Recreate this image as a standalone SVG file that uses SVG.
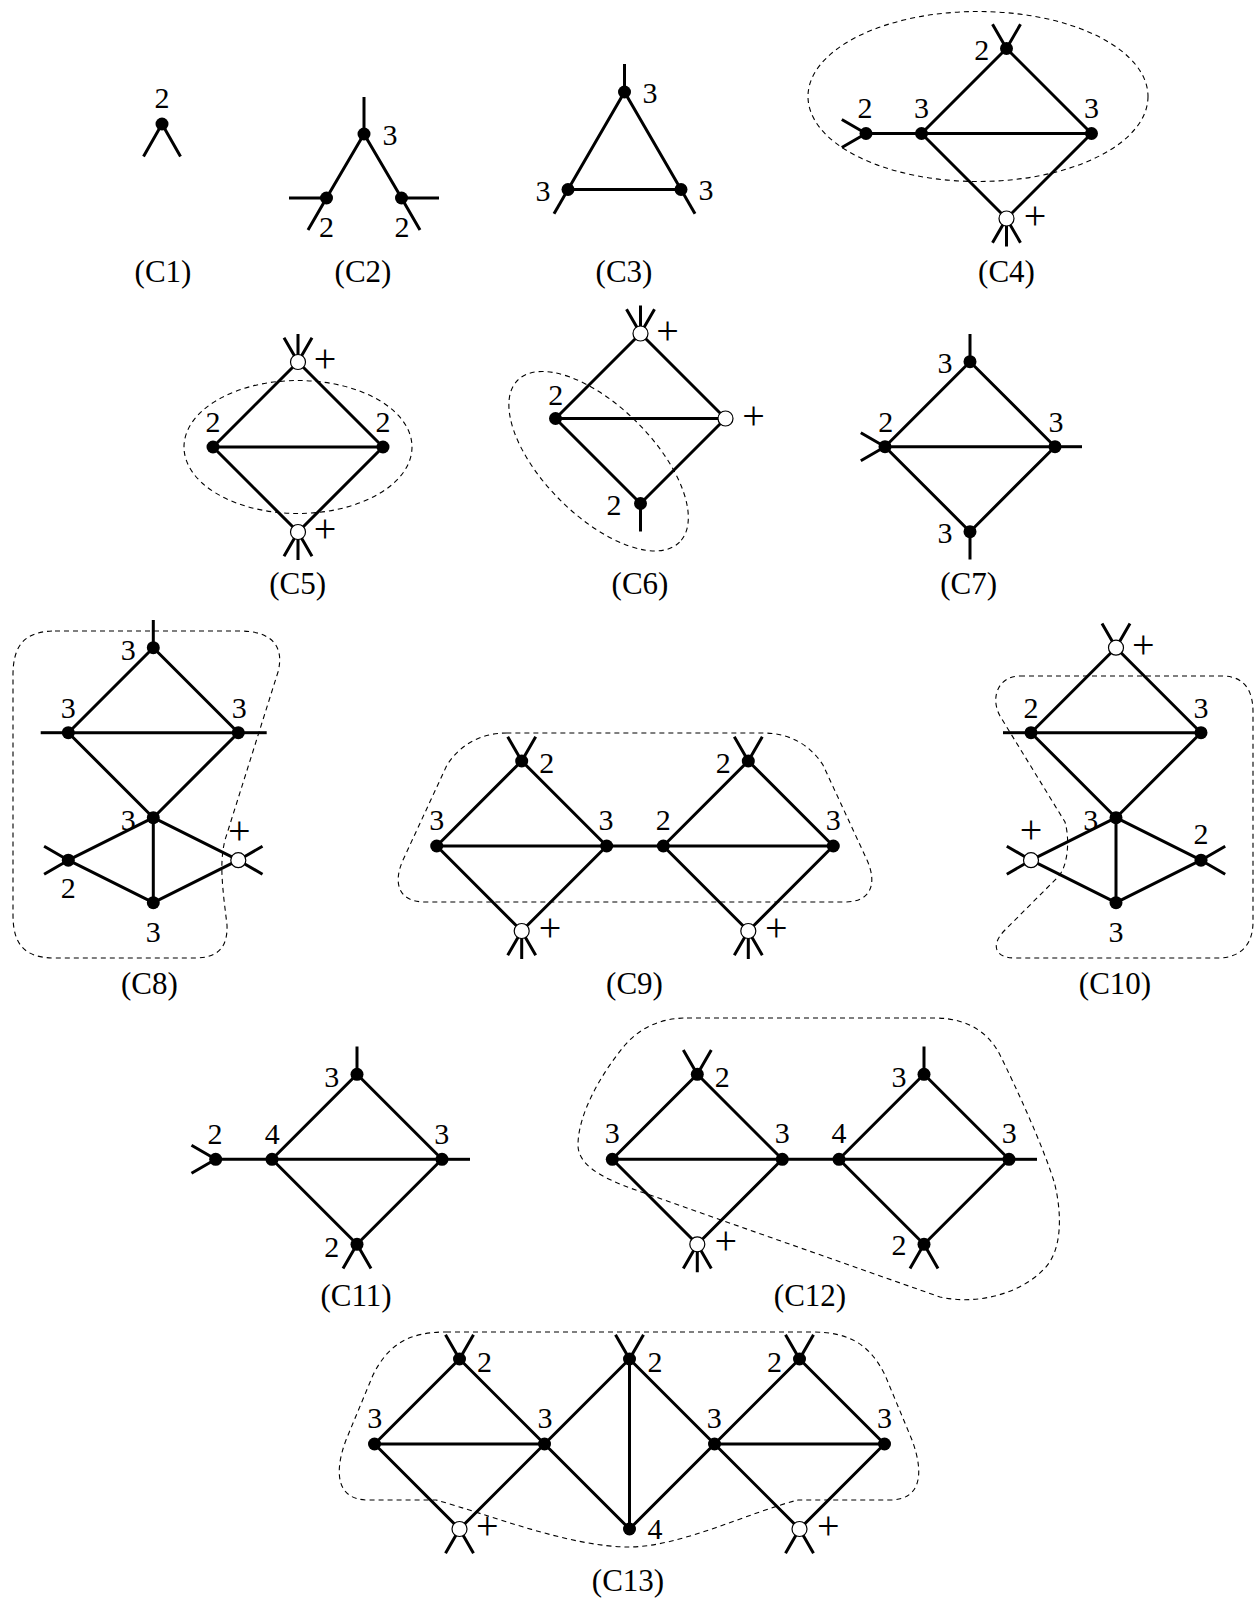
<svg xmlns="http://www.w3.org/2000/svg" width="1256" height="1604" viewBox="0 0 1256 1604">
<style>
.e{stroke:#000;stroke-width:3;fill:none;stroke-linejoin:round}
.n{fill:#000}
.w{fill:#fff;stroke:#000;stroke-width:1.2}
.d{fill:none;stroke:#000;stroke-width:1.1;stroke-dasharray:5 4}
.t{font-family:"Liberation Serif",serif;font-size:30px;text-anchor:middle;fill:#000}
.p{font-size:40px}
.c{font-size:31px}
</style>
<rect width="1256" height="1604" fill="#fff"/>

<g id="C1">
<g id="C1-n1"><path class="e" d="M162 124L143.5 156.5M162 124L180.5 156.5"/><circle class="n" cx="162" cy="124" r="6.5"/><text class="t" x="162" y="108">2</text></g>
<text class="t c" x="163" y="282">(C1)</text>
</g>

<g id="C2">
<g id="C2-edges"><path class="e" d="M364 134L326.5 198M364 134L401.5 198"/></g>
<g id="C2-n1"><path class="e" d="M364 134V97"/><circle class="n" cx="364" cy="134" r="6.5"/><text class="t" x="390" y="145">3</text></g>
<g id="C2-n2"><path class="e" d="M326.5 198H289M326.5 198L308 230"/><circle class="n" cx="326.5" cy="198" r="6.5"/><text class="t" x="326.5" y="236.5">2</text></g>
<g id="C2-n3"><path class="e" d="M401.5 198H439M401.5 198L420 230"/><circle class="n" cx="401.5" cy="198" r="6.5"/><text class="t" x="402" y="236.5">2</text></g>
<text class="t c" x="363" y="282">(C2)</text>
</g>

<g id="C3">
<g id="C3-edges"><path class="e" d="M624.5 92L568 189.5M568 189.5H681M681 189.5L624.5 92"/></g>
<g id="C3-n1"><path class="e" d="M624.5 92V64"/><circle class="n" cx="624.5" cy="92" r="6.5"/><text class="t" x="650" y="103">3</text></g>
<g id="C3-n2"><path class="e" d="M568 189.5L554 213.7"/><circle class="n" cx="568" cy="189.5" r="6.5"/><text class="t" x="543" y="201">3</text></g>
<g id="C3-n3"><path class="e" d="M681 189.5L695 213.7"/><circle class="n" cx="681" cy="189.5" r="6.5"/><text class="t" x="706" y="200">3</text></g>
<text class="t c" x="624" y="282">(C3)</text>
</g>

<g id="C4">
<ellipse class="d" cx="978" cy="96.5" rx="170" ry="85"/>
<g id="C4-edges"><path class="e" d="M866 133.5H1091.5M921.5 133.5L1006.5 48.5L1091.5 133.5M921.5 133.5L1006.5 218.5L1091.5 133.5"/></g>
<g id="C4-n1"><path class="e" d="M866 133.5L841.8 119.5M866 133.5L841.8 147.5"/><circle class="n" cx="866" cy="133.5" r="6.5"/><text class="t" x="865" y="118.3">2</text></g>
<g id="C4-n2"><circle class="n" cx="921.5" cy="133.5" r="6.5"/><text class="t" x="921.5" y="118.3">3</text></g>
<g id="C4-n3"><circle class="n" cx="1091.5" cy="133.5" r="6.5"/><text class="t" x="1091.5" y="118.3">3</text></g>
<g id="C4-n4"><path class="e" d="M1006.5 48.5L992.5 24.3M1006.5 48.5L1020.5 24.3"/><circle class="n" cx="1006.5" cy="48.5" r="6.5"/><text class="t" x="981.7" y="60">2</text></g>
<g id="C4-n5"><path class="e" d="M1006.5 218.5L992.5 242.7M1006.5 218.5V246.5M1006.5 218.5L1020.5 242.7"/><circle class="w" cx="1006.5" cy="218.5" r="7.5"/><text class="t p" x="1035" y="228.5">+</text></g>
<text class="t c" x="1006.5" y="282">(C4)</text>
</g>

<g id="C5">
<ellipse class="d" cx="298" cy="447" rx="114" ry="66.5"/>
<g id="C5-edges"><path class="e" d="M213 447H383M213 447L298 362L383 447M213 447L298 532L383 447"/></g>
<g id="C5-n1"><circle class="n" cx="213" cy="447" r="6.5"/><text class="t" x="213" y="431.5">2</text></g>
<g id="C5-n2"><circle class="n" cx="383" cy="447" r="6.5"/><text class="t" x="383" y="431.5">2</text></g>
<g id="C5-n3"><path class="e" d="M298 362L284 337.8M298 362V334M298 362L312 337.8"/><circle class="w" cx="298" cy="362" r="7.5"/><text class="t p" x="325" y="372">+</text></g>
<g id="C5-n4"><path class="e" d="M298 532L284 556.2M298 532V560M298 532L312 556.2"/><circle class="w" cx="298" cy="532" r="7.5"/><text class="t p" x="325" y="542">+</text></g>
<text class="t c" x="297.7" y="594">(C5)</text>
</g>

<g id="C6">
<ellipse class="d" cx="0" cy="0" rx="114.5" ry="54.7" transform="translate(598.6 461.2) rotate(45)"/>
<g id="C6-edges"><path class="e" d="M555.5 418.5H725.5M555.5 418.5L640.5 333.5L725.5 418.5M555.5 418.5L640.5 503.5L725.5 418.5"/></g>
<g id="C6-n1"><circle class="n" cx="555.5" cy="418.5" r="6.5"/><text class="t" x="555.8" y="405">2</text></g>
<g id="C6-n2"><path class="e" d="M640.5 333.5L626.5 309.3M640.5 333.5V305.5M640.5 333.5L654.5 309.3"/><circle class="w" cx="640.5" cy="333.5" r="7.5"/><text class="t p" x="667.5" y="343.5">+</text></g>
<g id="C6-n3"><circle class="w" cx="725.5" cy="418.5" r="7.5"/><text class="t p" x="753.6" y="428.5">+</text></g>
<g id="C6-n4"><path class="e" d="M640.5 503.5V531.5"/><circle class="n" cx="640.5" cy="503.5" r="6.5"/><text class="t" x="613.9" y="515">2</text></g>
<text class="t c" x="640" y="594">(C6)</text>
</g>

<g id="C7">
<g id="C7-edges"><path class="e" d="M885 446.7H1055M885 446.7L970 361.7L1055 446.7M885 446.7L970 531.7L1055 446.7"/></g>
<g id="C7-n1"><path class="e" d="M970 361.7V334"/><circle class="n" cx="970" cy="361.7" r="6.5"/><text class="t" x="945" y="373.3">3</text></g>
<g id="C7-n2"><path class="e" d="M885 446.7L860.8 432.7M885 446.7L860.8 460.7"/><circle class="n" cx="885" cy="446.7" r="6.5"/><text class="t" x="885.7" y="431.7">2</text></g>
<g id="C7-n3"><path class="e" d="M1055 446.7H1082"/><circle class="n" cx="1055" cy="446.7" r="6.5"/><text class="t" x="1056" y="431.7">3</text></g>
<g id="C7-n4"><path class="e" d="M970 531.7V559.5"/><circle class="n" cx="970" cy="531.7" r="6.5"/><text class="t" x="945" y="543.3">3</text></g>
<text class="t c" x="968.7" y="594">(C7)</text>
</g>

<g id="C8">
<path class="d" d="M55 631H240C270 631 285 645 278 672L225 840C220 860 222 880 224 900L227 925C228 950 215 958 195 958H55C25 958 13 945 13 915V675C13 645 25 631 55 631Z"/>
<g id="C8-edges"><path class="e" d="M68.3 732.7H238.3M68.3 732.7L153.3 647.7L238.3 732.7M68.3 732.7L153.3 817.7L238.3 732.7M153.3 817.7L68.3 860.2L153.3 902.7L238.3 860.2L153.3 817.7M153.3 817.7V902.7"/></g>
<g id="C8-n1"><path class="e" d="M153.3 647.7V620"/><circle class="n" cx="153.3" cy="647.7" r="6.5"/><text class="t" x="128.3" y="660">3</text></g>
<g id="C8-n2"><path class="e" d="M68.3 732.7H40.7"/><circle class="n" cx="68.3" cy="732.7" r="6.5"/><text class="t" x="68.3" y="718.3">3</text></g>
<g id="C8-n3"><path class="e" d="M238.3 732.7H266.7"/><circle class="n" cx="238.3" cy="732.7" r="6.5"/><text class="t" x="239.3" y="718.3">3</text></g>
<g id="C8-n4"><circle class="n" cx="153.3" cy="817.7" r="6.5"/><text class="t" x="128.3" y="830">3</text></g>
<g id="C8-n5"><path class="e" d="M68.3 860.2L44.1 846.2M68.3 860.2L44.1 874.2"/><circle class="n" cx="68.3" cy="860.2" r="6.5"/><text class="t" x="68.3" y="898.3">2</text></g>
<g id="C8-n6"><path class="e" d="M238.3 860.2L262.5 846.2M238.3 860.2L262.5 874.2"/><circle class="w" cx="238.3" cy="860.2" r="7.5"/><text class="t p" x="239.3" y="844.4">+</text></g>
<g id="C8-n7"><circle class="n" cx="153.3" cy="902.7" r="6.5"/><text class="t" x="153.3" y="941.7">3</text></g>
<text class="t c" x="149.3" y="994">(C8)</text>
</g>

<g id="C9">
<path class="d" d="M507 733C480 733 460 745 447 765L403 860C392 885 400 902 425 902H845C870 902 878 885 867 860L823 765C810 745 790 733 763 733Z"/>
<g id="C9-edges"><path class="e" d="M436.7 846H833.3M436.7 846L521.7 761L606.7 846M436.7 846L521.7 931L606.7 846M663.3 846L748.3 761L833.3 846M663.3 846L748.3 931L833.3 846"/></g>
<g id="C9-n1"><circle class="n" cx="436.7" cy="846" r="6.5"/><text class="t" x="436.7" y="830">3</text></g>
<g id="C9-n2"><path class="e" d="M521.7 761L507.7 736.8M521.7 761L535.7 736.8"/><circle class="n" cx="521.7" cy="761" r="6.5"/><text class="t" x="546.7" y="773.3">2</text></g>
<g id="C9-n3"><circle class="n" cx="606.7" cy="846" r="6.5"/><text class="t" x="606" y="830">3</text></g>
<g id="C9-n4"><path class="e" d="M521.7 931L507.7 955.2M521.7 931V959M521.7 931L535.7 955.2"/><circle class="w" cx="521.7" cy="931" r="7.5"/><text class="t p" x="550" y="941">+</text></g>
<g id="C9-n5"><circle class="n" cx="663.3" cy="846" r="6.5"/><text class="t" x="663.3" y="830">2</text></g>
<g id="C9-n6"><path class="e" d="M748.3 761L734.3 736.8M748.3 761L762.3 736.8"/><circle class="n" cx="748.3" cy="761" r="6.5"/><text class="t" x="723.3" y="773.3">2</text></g>
<g id="C9-n7"><circle class="n" cx="833.3" cy="846" r="6.5"/><text class="t" x="833.3" y="830">3</text></g>
<g id="C9-n8"><path class="e" d="M748.3 931L734.3 955.2M748.3 931V959M748.3 931L762.3 955.2"/><circle class="w" cx="748.3" cy="931" r="7.5"/><text class="t p" x="776.3" y="941">+</text></g>
<text class="t c" x="634.5" y="994">(C9)</text>
</g>

<g id="C10">
<path class="d" d="M1020 676H1222C1244 676 1253 690 1253 712V922C1253 945 1240 958 1218 958H1015C995 958 990 945 1005 930L1058 877C1068 866 1070 840 1065 822L1000 716C990 698 998 676 1020 676Z"/>
<g id="C10-edges"><path class="e" d="M1031 732.7H1201M1031 732.7L1116 647.7L1201 732.7M1031 732.7L1116 817.7L1201 732.7M1116 817.7L1031 860.2L1116 902.7L1201 860.2L1116 817.7M1116 817.7V902.7"/></g>
<g id="C10-n1"><path class="e" d="M1116 647.7L1102 623.5M1116 647.7L1130 623.5"/><circle class="w" cx="1116" cy="647.7" r="7.5"/><text class="t p" x="1143.3" y="658">+</text></g>
<g id="C10-n2"><path class="e" d="M1031 732.7H1003"/><circle class="n" cx="1031" cy="732.7" r="6.5"/><text class="t" x="1031" y="718.3">2</text></g>
<g id="C10-n3"><circle class="n" cx="1201" cy="732.7" r="6.5"/><text class="t" x="1201" y="718.3">3</text></g>
<g id="C10-n4"><circle class="n" cx="1116" cy="817.7" r="6.5"/><text class="t" x="1090.7" y="830">3</text></g>
<g id="C10-n5"><path class="e" d="M1031 860.2L1006.8 846.2M1031 860.2L1006.8 874.2"/><circle class="w" cx="1031" cy="860.2" r="7.5"/><text class="t p" x="1031" y="843.4">+</text></g>
<g id="C10-n6"><path class="e" d="M1201 860.2L1225.2 846.2M1201 860.2L1225.2 874.2"/><circle class="n" cx="1201" cy="860.2" r="6.5"/><text class="t" x="1201" y="844.3">2</text></g>
<g id="C10-n7"><circle class="n" cx="1116" cy="902.7" r="6.5"/><text class="t" x="1116" y="941.7">3</text></g>
<text class="t c" x="1115" y="994">(C10)</text>
</g>

<g id="C11">
<g id="C11-edges"><path class="e" d="M215.7 1159.3H442M272 1159.3L357 1074.3L442 1159.3M272 1159.3L357 1244.3L442 1159.3"/></g>
<g id="C11-n1"><path class="e" d="M215.7 1159.3L191.5 1145.3M215.7 1159.3L191.5 1173.3"/><circle class="n" cx="215.7" cy="1159.3" r="6.5"/><text class="t" x="215" y="1144">2</text></g>
<g id="C11-n2"><circle class="n" cx="272" cy="1159.3" r="6.5"/><text class="t" x="272.3" y="1144">4</text></g>
<g id="C11-n3"><path class="e" d="M357 1074.3V1046.5"/><circle class="n" cx="357" cy="1074.3" r="6.5"/><text class="t" x="331.7" y="1086.7">3</text></g>
<g id="C11-n4"><path class="e" d="M442 1159.3H470"/><circle class="n" cx="442" cy="1159.3" r="6.5"/><text class="t" x="441.7" y="1144">3</text></g>
<g id="C11-n5"><path class="e" d="M357 1244.3L343 1268.5M357 1244.3L371 1268.5"/><circle class="n" cx="357" cy="1244.3" r="6.5"/><text class="t" x="331.7" y="1256.7">2</text></g>
<text class="t c" x="356" y="1306">(C11)</text>
</g>

<g id="C12">
<path class="d" d="M687 1018H935C970 1018 990 1035 1000 1055C1015 1085 1045 1150 1055 1185C1062 1215 1062 1250 1045 1268C1020 1295 975 1305 940 1297L650 1195C615 1183 578 1170 578 1145C578 1115 600 1075 625 1045C640 1028 660 1018 687 1018Z"/>
<g id="C12-edges"><path class="e" d="M612.3 1159.3H1009M612.3 1159.3L697.3 1074.3L782.3 1159.3M612.3 1159.3L697.3 1244.3L782.3 1159.3M839 1159.3L924 1074.3L1009 1159.3M839 1159.3L924 1244.3L1009 1159.3"/></g>
<g id="C12-n1"><circle class="n" cx="612.3" cy="1159.3" r="6.5"/><text class="t" x="612.3" y="1143.3">3</text></g>
<g id="C12-n2"><path class="e" d="M697.3 1074.3L683.3 1050.1M697.3 1074.3L711.3 1050.1"/><circle class="n" cx="697.3" cy="1074.3" r="6.5"/><text class="t" x="722.3" y="1086.7">2</text></g>
<g id="C12-n3"><circle class="n" cx="782.3" cy="1159.3" r="6.5"/><text class="t" x="782.3" y="1143.3">3</text></g>
<g id="C12-n4"><path class="e" d="M697.3 1244.3L683.3 1268.5M697.3 1244.3V1272.3M697.3 1244.3L711.3 1268.5"/><circle class="w" cx="697.3" cy="1244.3" r="7.5"/><text class="t p" x="725.7" y="1254.3">+</text></g>
<g id="C12-n5"><circle class="n" cx="839" cy="1159.3" r="6.5"/><text class="t" x="839" y="1143.3">4</text></g>
<g id="C12-n6"><path class="e" d="M924 1074.3V1046.5"/><circle class="n" cx="924" cy="1074.3" r="6.5"/><text class="t" x="899" y="1086.7">3</text></g>
<g id="C12-n7"><path class="e" d="M1009 1159.3H1037"/><circle class="n" cx="1009" cy="1159.3" r="6.5"/><text class="t" x="1009.3" y="1143.3">3</text></g>
<g id="C12-n8"><path class="e" d="M924 1244.3L910 1268.5M924 1244.3L938 1268.5"/><circle class="n" cx="924" cy="1244.3" r="6.5"/><text class="t" x="899" y="1255">2</text></g>
<text class="t c" x="810" y="1306">(C12)</text>
</g>

<g id="C13">
<path class="d" d="M446 1332H812C850 1332 870 1345 885 1375L912 1440C925 1475 920 1500 890 1500H798C750 1512 680 1547 629 1547C570 1547 490 1515 436 1500H368C338 1500 333 1475 346 1440L373 1375C388 1345 408 1332 446 1332Z"/>
<g id="C13-edges"><path class="e" d="M374.5 1444H544.5M374.5 1444L459.5 1359L544.5 1444M374.5 1444L459.5 1529L544.5 1444M544.5 1444L629.5 1359L714.5 1444M544.5 1444L629.5 1529L714.5 1444M629.5 1359V1529M714.5 1444H884.5M714.5 1444L799.5 1359L884.5 1444M714.5 1444L799.5 1529L884.5 1444"/></g>
<g id="C13-n1"><circle class="n" cx="374.5" cy="1444" r="6.5"/><text class="t" x="374.7" y="1428.3">3</text></g>
<g id="C13-n2"><path class="e" d="M459.5 1359L445.5 1334.8M459.5 1359L473.5 1334.8"/><circle class="n" cx="459.5" cy="1359" r="6.5"/><text class="t" x="484.6" y="1371.7">2</text></g>
<g id="C13-n3"><circle class="n" cx="544.5" cy="1444" r="6.5"/><text class="t" x="545" y="1428.3">3</text></g>
<g id="C13-n4"><path class="e" d="M459.5 1529L445.5 1553.2M459.5 1529L473.5 1553.2"/><circle class="w" cx="459.5" cy="1529" r="7.5"/><text class="t p" x="487.2" y="1539">+</text></g>
<g id="C13-n5"><path class="e" d="M629.5 1359L615.5 1334.8M629.5 1359L643.5 1334.8"/><circle class="n" cx="629.5" cy="1359" r="6.5"/><text class="t" x="654.9" y="1371.7">2</text></g>
<g id="C13-n6"><circle class="n" cx="629.5" cy="1529" r="6.5"/><text class="t" x="654.9" y="1539.3">4</text></g>
<g id="C13-n7"><circle class="n" cx="714.5" cy="1444" r="6.5"/><text class="t" x="714.2" y="1428.3">3</text></g>
<g id="C13-n8"><path class="e" d="M799.5 1359L785.5 1334.8M799.5 1359L813.5 1334.8"/><circle class="n" cx="799.5" cy="1359" r="6.5"/><text class="t" x="774.6" y="1371.7">2</text></g>
<g id="C13-n9"><circle class="n" cx="884.5" cy="1444" r="6.5"/><text class="t" x="884.5" y="1428.3">3</text></g>
<g id="C13-n10"><path class="e" d="M799.5 1529L785.5 1553.2M799.5 1529L813.5 1553.2"/><circle class="w" cx="799.5" cy="1529" r="7.5"/><text class="t p" x="828.2" y="1539">+</text></g>
<text class="t c" x="628" y="1591">(C13)</text>
</g>
</svg>
